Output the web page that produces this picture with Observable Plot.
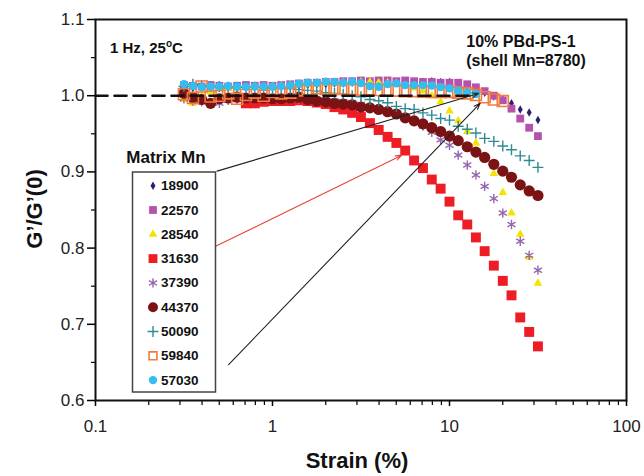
<!DOCTYPE html>
<html><head><meta charset="utf-8">
<script src="https://cdn.jsdelivr.net/npm/d3@7"></script>
<script src="https://cdn.jsdelivr.net/npm/@observablehq/plot@0.6"></script>
<style>
html,body{margin:0;padding:0;background:#fff;}
#chart{width:644px;height:476px;font-family:"Liberation Sans",Arial,sans-serif;}
</style>
</head><body><div id="chart"></div>
<script>
// Strain (%) grid shared by all series
const strain = [0.316,0.355,0.398,0.447,0.501,0.562,0.631,0.708,0.794,0.891,
  1.00,1.12,1.26,1.41,1.58,1.78,2.00,2.24,2.51,2.82,
  3.16,3.55,3.98,4.47,5.01,5.62,6.31,7.08,7.94,8.91,
  10.0,11.2,12.6,14.1,15.8,17.8,20.0,22.4,25.1,28.2,31.6];

// G'/G'(0) for each matrix Mn (null = no point)
const g18900 = [1.012,1.010,1.011,1.010,1.012,1.011,1.010,1.011,1.012,1.011,
  1.012,1.012,1.013,1.013,1.014,1.015,1.015,1.016,1.016,1.017,
  1.017,1.017,1.018,1.018,1.018,1.019,1.018,1.018,1.019,1.018,
  1.018,1.016,1.013,1.009,1.004,0.999,0.995,0.990,0.982,0.978,0.968];
const g22570 = [1.014,1.013,1.012,1.014,1.013,1.012,1.013,1.014,1.013,1.014,
  1.013,1.014,1.015,1.016,1.017,1.017,1.018,1.018,1.019,1.019,
  1.020,1.019,1.020,1.020,1.019,1.020,1.019,1.018,1.018,1.017,
  1.017,1.017,1.015,1.011,1.006,1.000,0.994,0.983,0.970,0.958,0.947];
const g28540 = [0.995,0.990,1.000,1.005,1.008,1.010,1.010,1.011,1.012,1.012,
  1.012,1.013,1.014,1.014,1.015,1.015,1.016,1.016,1.017,1.017,
  1.018,1.018,1.017,1.017,1.016,1.013,1.010,1.006,1.000,0.992,
  0.980,0.967,0.953,0.938,0.920,0.898,0.873,0.846,0.818,0.788,0.754];
const g31630 = [null,null,null,null,null,null,null,0.990,0.990,0.992,
  0.993,0.993,0.993,0.994,0.993,0.991,0.989,0.985,0.982,0.9775,
  0.972,0.964,0.955,0.946,0.938,0.928,0.915,0.905,0.890,0.878,
  0.861,0.843,0.831,0.814,0.796,0.777,0.757,0.738,0.709,0.690,0.671];
const g37390 = [0.996,0.993,0.992,0.991,0.990,0.994,0.995,0.995,0.995,0.996,
  0.996,0.996,0.996,0.995,0.995,0.995,0.994,0.993,0.992,0.991,
  0.989,0.986,0.983,0.980,0.976,0.971,0.966,0.960,0.952,0.942,
  0.935,0.922,0.909,0.896,0.881,0.865,0.846,0.831,0.809,0.7905,0.771];
const g44370 = [1.003,0.998,0.995,0.990,0.996,0.997,0.998,0.997,0.997,0.997,
  0.996,0.996,0.997,0.998,0.995,0.993,0.992,0.990,0.989,0.988,
  0.985,0.984,0.982,0.979,0.976,0.971,0.967,0.963,0.958,0.953,
  0.947,0.941,0.933,0.926,0.919,0.910,0.901,0.893,0.883,0.875,0.869];
const g50090 = [1.012,1.015,1.013,1.012,1.012,1.011,1.011,1.011,1.011,1.011,
  1.010,1.010,1.009,1.008,1.007,1.006,1.004,1.003,1.002,1.000,
  0.9986,0.995,0.9933,0.9907,0.986,0.983,0.982,0.9775,0.9745,0.970,
  0.968,0.960,0.956,0.951,0.944,0.940,0.934,0.929,0.921,0.915,0.906];
const g59840 = [1.002,0.997,1.012,0.999,1.000,1.003,0.996,1.001,1.004,1.000,
  1.005,1.003,1.004,1.007,1.008,1.010,1.009,1.0096,1.009,1.0087,
  1.008,1.008,1.0074,1.0074,1.0067,1.006,1.006,1.0054,1.005,1.005,
  1.005,1.004,1.003,1.001,0.998,0.995,0.993,null,null,null,null];
const g57030 = [1.0152,1.0128,1.0113,1.0120,1.0120,1.0126,1.0120,1.0117,1.0120,1.0120,
  1.0117,1.0126,1.0139,1.0159,1.0170,1.0170,1.0183,1.0179,1.0170,1.0183,
  1.0166,1.0126,1.0117,1.0152,1.0162,1.0139,1.0139,1.0139,1.0133,1.0113,
  1.0096,1.0064,1.0041,1.0021,null,null,null,null,null,null,null];

const seriesNames = ["18900","22570","28540","31630","37390","44370","50090","59840","57030"];
const seriesValues = [g18900,g22570,g28540,g31630,g37390,g44370,g50090,g59840,g57030];

// axis ticks
const xMajor = [0.1, 1, 10, 100];
const xMajorLabels = ["0.1", "1", "10", "100"];
const xMinor = [0.2,0.3,0.4,0.5,0.6,0.7,0.8,0.9,2,3,4,5,6,7,8,9,20,30,40,50,60,70,80,90];
const yMajor = [0.6, 0.7, 0.8, 0.9, 1.0, 1.1];
const yMinor = [0.65, 0.75, 0.85, 0.95, 1.05];

// reference dashed line at G'/G'(0) = 1
const refStrain = [0.1, 14];
const refG = [1, 1];

// annotation arrows (strain, G) start -> end
const arrowX1 = [0.486, 0.446, 0.565];
const arrowY1 = [0.901, 0.799, 0.647];
const arrowX2 = [14.6, 5.38, 14.9];
const arrowY2 = [1.003, 0.922, 0.990];
const arrowColor = ["#222", "#e8443a", "#222"];

// marker styles
const styles = {
  "18900": {symbol: "diamond", fill: "#27246f", stroke: "none", r: 2.6},
  "22570": {symbol: "square", fill: "#b552ad", stroke: "none", r: 4.4},
  "28540": {symbol: "triangle", fill: "#f4e400", stroke: "none", r: 3.2},
  "31630": {symbol: "square", fill: "#ee1c24", stroke: "none", r: 5.6},
  "37390": {symbol: "asterisk", fill: "none", stroke: "#9466b0", r: 4.4, sw: 1.4},
  "44370": {symbol: "circle", fill: "#7b1214", stroke: "none", r: 5.6},
  "50090": {symbol: "plus", fill: "none", stroke: "#2e8b93", r: 3.6, sw: 1.4},
  "59840": {symbol: "square2", fill: "none", stroke: "#f07c3e", r: 7.0, sw: 1.6},
  "57030": {symbol: "circle", fill: "#34bdef", stroke: "none", r: 4.2}
};

const table = [];
seriesNames.forEach((name, k) => {
  seriesValues[k].forEach((v, i) => { if (v != null) table.push({strain: strain[i], g: v, series: name}); });
});
const refLine = refStrain.map((s, i) => ({strain: s, g: refG[i]}));
const arrows = arrowX1.map((x, i) => ({x1: x, y1: arrowY1[i], x2: arrowX2[i], y2: arrowY2[i], c: arrowColor[i]}));

const dotMarks = seriesNames.map(name => {
  const s = styles[name];
  return Plot.dot(table.filter(d => d.series === name), {
    x: "strain", y: "g", symbol: () => s.symbol, r: s.r,
    fill: s.fill, stroke: s.stroke, strokeWidth: s.sw || 1
  });
});

const chart = Plot.plot({
  width: 644, height: 476,
  marginLeft: 95, marginRight: 18, marginTop: 19, marginBottom: 76,
  style: {fontFamily: "Liberation Sans, Arial, sans-serif", background: "#fff", overflow: "visible"},
  x: {type: "log", domain: [0.1, 100]},
  y: {domain: [0.6, 1.1]},
  symbol: {type: "identity"},
  marks: [
    Plot.axisX({ticks: xMinor, tickSize: 5, tickFormat: () => "", label: null, strokeWidth: 1.2}),
    Plot.axisX({ticks: xMajor, tickSize: 6, tickPadding: 13, tickFormat: (d) => xMajorLabels[xMajor.indexOf(d)], label: null, fontSize: 17, fill: "#222", strokeWidth: 1.5}),
    Plot.axisY({ticks: yMinor, tickSize: 4, tickFormat: () => "", label: null, strokeWidth: 1.2}),
    Plot.axisY({ticks: yMajor, tickSize: 8, tickPadding: 3, tickFormat: d3.format(".1f"), label: null, fontSize: 17, fill: "#222", strokeWidth: 1.5}),
    ...dotMarks,
    Plot.line(refLine, {x: "strain", y: "g", stroke: "#111", strokeWidth: 2.6, strokeDasharray: "12,7"}),
    Plot.arrow(arrows, {x1: "x1", y1: "y1", x2: "x2", y2: "y2", stroke: "c", strokeWidth: 1.1, headLength: 9, headAngle: 40}),
    Plot.frame({stroke: "#111", strokeWidth: 2})
  ]
});
document.getElementById("chart").appendChild(chart);

// overlay texts and legend
const svg = d3.select(chart);
const font = "Liberation Sans, Arial, sans-serif";
svg.append("text").attr("x", 34).attr("y", 209).attr("transform", "rotate(-90,34,209)")
  .attr("text-anchor", "middle").attr("dominant-baseline", "central")
  .attr("font-family", font).attr("font-weight", "bold").attr("font-size", 22).attr("fill", "#111")
  .text("G’/G’(0)");
svg.append("text").attr("x", 357).attr("y", 468).attr("text-anchor", "middle")
  .attr("font-family", font).attr("font-weight", "bold").attr("font-size", 22).attr("fill", "#111")
  .text("Strain (%)");
const t1 = svg.append("text").attr("x", 110).attr("y", 53).attr("text-anchor", "start")
  .attr("font-family", font).attr("font-weight", "bold").attr("font-size", 15).attr("fill", "#111");
t1.append("tspan").text("1 Hz, 25");
t1.append("tspan").attr("font-size", 10).attr("dy", -6).text("o");
t1.append("tspan").attr("dy", 6).text("C");
svg.append("text").attr("x", 521).attr("y", 47).attr("text-anchor", "middle")
  .attr("font-family", font).attr("font-weight", "bold").attr("font-size", 16).attr("fill", "#111")
  .text("10% PBd-PS-1");
svg.append("text").attr("x", 526).attr("y", 66).attr("text-anchor", "middle")
  .attr("font-family", font).attr("font-weight", "bold").attr("font-size", 16).attr("fill", "#111")
  .text("(shell Mn=8780)");

svg.append("text").attr("x", 166).attr("y", 163).attr("text-anchor", "middle")
  .attr("font-family", font).attr("font-weight", "bold").attr("font-size", 17).attr("fill", "#111")
  .text("Matrix Mn");
svg.append("rect").attr("x", 132.5).attr("y", 172).attr("width", 83).attr("height", 220)
  .attr("fill", "#fff").attr("stroke", "#444").attr("stroke-width", 1.5);
const symMap = {diamond: d3.symbolDiamond, square: d3.symbolSquare, triangle: d3.symbolTriangle,
  asterisk: d3.symbolAsterisk, circle: d3.symbolCircle, plus: d3.symbolPlus, square2: d3.symbolSquare2};
seriesNames.forEach((name, k) => {
  const s = styles[name];
  const cy = 185.7 + k * 24.3;
  const rr = Math.min(s.r, 5);
  svg.append("path").attr("transform", `translate(153,${cy})`)
    .attr("d", d3.symbol(symMap[s.symbol], Math.PI * rr * rr)())
    .attr("fill", s.fill).attr("stroke", s.stroke).attr("stroke-width", s.sw || 1);
  svg.append("text").attr("x", 161).attr("y", cy).attr("dominant-baseline", "central")
    .attr("text-anchor", "start")
    .attr("font-family", font).attr("font-weight", "bold").attr("font-size", 13.5).attr("fill", "#111")
    .text(name);
});
</script></body></html>
